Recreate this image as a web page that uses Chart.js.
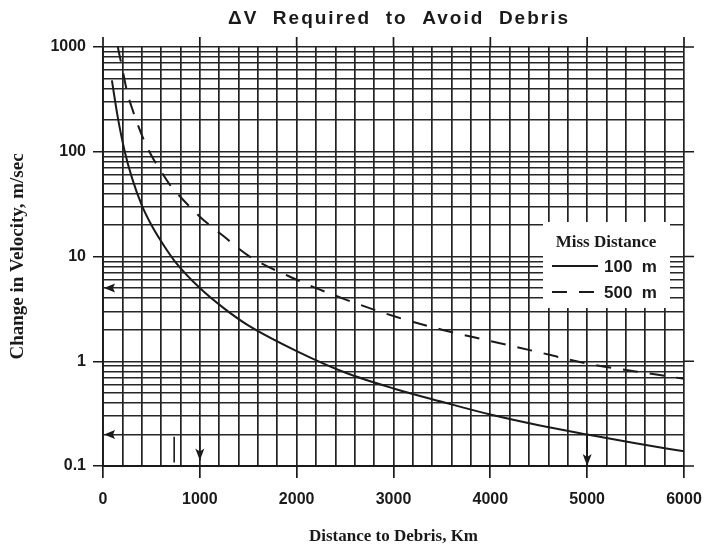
<!DOCTYPE html>
<html><head><meta charset="utf-8">
<script src="https://cdn.jsdelivr.net/npm/chart.js@4.4.0/dist/chart.umd.min.js"></script>
<style>html,body{margin:0;padding:0;background:#fff;}#wrap{width:706px;height:553px;position:relative;}</style>
</head><body><div id="wrap"><canvas id="c"></canvas></div>
<script>
// ---- data ----
const titleText = 'ΔV  Required  to  Avoid  Debris';
const xTitle = 'Distance to Debris, Km';
const yTitle = 'Change in Velocity, m/sec';
const legendTitle = 'Miss Distance';
const seriesLabels = ['100  m', '500  m'];

const dist100 = [92, 150, 225, 300, 400, 500, 600, 750, 1000, 1250, 1500, 2000, 2500, 3000, 3500, 4000, 4500, 5000, 5500, 6000];
const dv100   = [480, 220, 100, 56, 31, 20, 14, 8.8, 5, 3.2, 2.2, 1.25, 0.78, 0.55, 0.41, 0.31, 0.245, 0.2, 0.165, 0.138];

const dist500 = [153, 200, 250, 300, 400, 500, 600, 700, 800, 1000, 1250, 1500, 2000, 2500, 3000, 3500, 4000, 4500, 5000, 5500, 6000];
const dv500   = [1000, 620, 370, 260, 145, 92, 65, 47, 37, 24, 15.5, 10.2, 6, 3.9, 2.7, 2, 1.56, 1.22, 0.95, 0.8, 0.68];

const xMajorTicks = [0, 1000, 2000, 3000, 4000, 5000, 6000];
const xGridValues = [0,200,400,600,800,1000,1200,1400,1600,1800,2000,2200,2400,2600,2800,3000,3200,3400,3600,3800,4000,4200,4400,4600,4800,5000,5200,5400,5600,5800,6000];
const yMajorTicks = [0.1, 1, 10, 100, 1000];
const yMajorLabels = ['0.1', '1', '10', '100', '1000'];
const yMinorFactors = [2, 3, 4, 5, 6, 7, 8, 9];

const leftArrows = [5, 0.2];
const downArrows = [{x: 1000, from: 0.19, to: 0.113}, {x: 5000, from: 0.2, to: 0.1}];
const strayMarks = [{x: 735, from: 0.19, to: 0.108}];

// ---- build ----
const yGridValues = [];
yMajorTicks.forEach((m, i) => {
  yGridValues.push(m);
  if (i < yMajorTicks.length - 1) yMinorFactors.forEach(f => yGridValues.push(+(m * f).toPrecision(6)));
});

const INK = '#1a1a1a';
const tickFont = {family: "'Liberation Sans', Arial, sans-serif", size: 16, weight: 'bold'};

const spacedTitle = {
  id: 'spacedTitle',
  afterLayout(chart) {
    const tb = chart.titleBlock;
    if (tb && !tb._spaced) {
      const orig = tb.draw;
      tb.draw = function () {
        const c = this.ctx; c.save();
        c.letterSpacing = '2px'; c.translate(57, 0);
        orig.apply(this, arguments);
        c.restore();
      };
      tb._spaced = true;
    }
  }
};

const extras = {
  id: 'extras',
  afterDraw(chart) {
    const {ctx, chartArea: a, scales: {x, y}} = chart;
    ctx.save();
    ctx.strokeStyle = INK; ctx.fillStyle = INK; ctx.lineWidth = 1.7;
    // tick extensions on top and right, axis overshoot
    ctx.beginPath();
    xMajorTicks.forEach(v => { const px = x.getPixelForValue(v); ctx.moveTo(px, a.top - 10); ctx.lineTo(px, a.top); });
    yMajorTicks.forEach(v => { const py = y.getPixelForValue(v); ctx.moveTo(a.right, py); ctx.lineTo(a.right + 10, py); });
    ctx.moveTo(a.right, a.bottom); ctx.lineTo(a.right + 10, a.bottom);
    ctx.stroke();
    // legend box
    const bx = 543, by = 222, bw = 127, bh = 86;
    ctx.fillStyle = '#fff';
    ctx.fillRect(bx, by, bw, bh);
    ctx.fillStyle = INK;
    ctx.font = "bold 17px 'Liberation Serif', serif";
    ctx.textAlign = 'center'; ctx.textBaseline = 'middle';
    ctx.fillText(legendTitle, 606, 243);
    chart.data.datasets.forEach((ds, i) => {
      const ly = 266 + i * 26;
      ctx.beginPath();
      ctx.lineWidth = 2;
      ctx.setLineDash(ds.borderDash || []);
      ctx.moveTo(552, ly); ctx.lineTo(598, ly);
      ctx.stroke();
      ctx.setLineDash([]);
      ctx.font = "bold 17px 'Liberation Sans', Arial, sans-serif";
      ctx.textAlign = 'left';
      ctx.fillText(ds.label, 604, ly + 1);
    });
    // arrows
    ctx.lineWidth = 1.6;
    leftArrows.forEach(v => {
      const py = y.getPixelForValue(v), px = a.left + 1;
      ctx.beginPath(); ctx.moveTo(px, py); ctx.lineTo(px + 11, py - 4.5); ctx.lineTo(px + 9, py); ctx.lineTo(px + 11, py + 4.5); ctx.closePath(); ctx.fill();
    });
    downArrows.forEach(d => {
      const px = x.getPixelForValue(d.x), p0 = y.getPixelForValue(d.from), p1 = y.getPixelForValue(d.to);
      ctx.beginPath(); ctx.moveTo(px, p0); ctx.lineTo(px, p1); ctx.stroke();
      ctx.beginPath(); ctx.moveTo(px, p1); ctx.lineTo(px - 4.5, p1 - 12); ctx.lineTo(px, p1 - 9); ctx.lineTo(px + 4.5, p1 - 12); ctx.closePath(); ctx.fill();
    });
    strayMarks.forEach(d => {
      const px = x.getPixelForValue(d.x);
      ctx.beginPath(); ctx.moveTo(px, y.getPixelForValue(d.from)); ctx.lineTo(px, y.getPixelForValue(d.to)); ctx.stroke();
    });
    ctx.restore();
  }
};

new Chart(document.getElementById('c'), {
  type: 'line',
  data: {
    datasets: [
      {label: seriesLabels[0], data: dist100.map((d, i) => ({x: d, y: dv100[i]})), borderColor: INK, borderWidth: 2, pointRadius: 0, cubicInterpolationMode: 'monotone', fill: false},
      {label: seriesLabels[1], data: dist500.map((d, i) => ({x: d, y: dv500[i]})), borderColor: INK, borderWidth: 2, borderDash: [15, 12], pointRadius: 0, cubicInterpolationMode: 'monotone', fill: false}
    ]
  },
  options: {
    responsive: true, maintainAspectRatio: false, animation: false,
    layout: {padding: {left: 0, right: 22, top: 0, bottom: 0}},
    plugins: {
      legend: {display: false}, tooltip: {enabled: false},
      title: {display: true, text: titleText, color: INK, font: {family: "'Liberation Sans', Arial, sans-serif", size: 19, weight: 'bold'}, padding: {top: 7, bottom: 17.2}}
    },
    scales: {
      x: {
        type: 'linear', min: 0, max: 6000,
        afterBuildTicks: s => { s.ticks = xGridValues.map(v => ({value: v, major: xMajorTicks.includes(v)})); },
        afterFit: s => { s.height = 87; s.paddingRight = 0; s.paddingLeft = 0; },
        ticks: {autoSkip: false, maxRotation: 0, color: INK, font: tickFont, padding: 12,
          callback: v => xMajorTicks.includes(v) ? String(v) : ''},
        grid: {color: '#222', lineWidth: 1.7, tickLength: 12,
          tickColor: c => (c.tick && c.tick.major) ? INK : 'rgba(0,0,0,0)'},
        border: {color: INK, width: 1.9},
        title: {display: true, text: xTitle, color: INK, font: {family: "'Liberation Serif', 'Times New Roman', serif", size: 17, weight: 'bold'}, padding: {top: 0, bottom: 6}}
      },
      y: {
        type: 'logarithmic', min: 0.1, max: 1000,
        afterBuildTicks: s => { s.ticks = yGridValues.map(v => ({value: v, major: yMajorTicks.includes(v)})); },
        afterFit: s => { s.width = 103; },
        ticks: {autoSkip: false, color: INK, font: tickFont, padding: 7,
          callback: (v) => { const k = yMajorTicks.indexOf(v); return k >= 0 ? yMajorLabels[k] : ''; }},
        grid: {color: '#262626', lineWidth: 1.5, tickLength: 10,
          tickColor: c => (c.tick && c.tick.major) ? INK : 'rgba(0,0,0,0)'},
        border: {color: INK, width: 1.9},
        title: {display: true, text: yTitle, color: INK, font: {family: "'Liberation Serif', 'Times New Roman', serif", size: 19, weight: 'bold'}, padding: {top: 7, bottom: 0}}
      }
    }
  },
  plugins: [spacedTitle, extras]
});
</script></body></html>
